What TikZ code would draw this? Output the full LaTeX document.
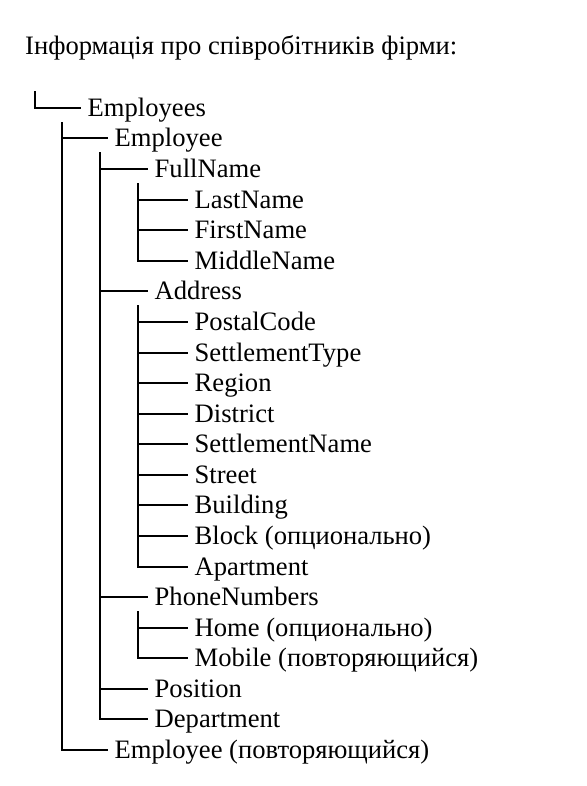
\documentclass[tikz,border=0pt]{standalone}
\usepackage{fontspec}
\setmainfont{Liberation Serif}
\begin{document}
\begin{tikzpicture}[x=1pt,y=-1pt,
  every node/.style={font=\fontsize{26.6}{30}\selectfont},
  item/.style={anchor=west, inner xsep=7.5pt, inner ysep=0pt, text height=17.4pt, text depth=0pt},
  branch/.style={line width=2pt, line cap=rect}]
\useasboundingbox (0,0) rectangle (586,786);
\node[anchor=base west, inner sep=0pt] (title) at (25,55) {Інформація про співробітників фірми:};
% nodes
\node[item] (emps) at (80,108) {Employees};
\node[item] (emp) at (107,138) {Employee};
\node[item] (full) at (147,169) {FullName};
\node[item] (last) at (187,200) {LastName};
\node[item] (first) at (187,230) {FirstName};
\node[item] (middle) at (187,261) {MiddleName};
\node[item] (addr) at (147,291) {Address};
\node[item] (postal) at (187,322) {PostalCode};
\node[item] (stype) at (187,353) {SettlementType};
\node[item] (region) at (187,383) {Region};
\node[item] (district) at (187,414) {District};
\node[item] (sname) at (187,444) {SettlementName};
\node[item] (street) at (187,475) {Street};
\node[item] (building) at (187,505) {Building};
\node[item] (block) at (187,536) {Block (опционально)};
\node[item] (apt) at (187,567) {Apartment};
\node[item] (phones) at (147,597) {PhoneNumbers};
\node[item] (home) at (187,628) {Home (опционально)};
\node[item] (mobile) at (187,658) {Mobile (повторяющийся)};
\node[item] (pos) at (147,689) {Position};
\node[item] (dept) at (147,719) {Department};
\node[item] (emp2) at (107,750) {Employee (повторяющийся)};
% vertical tops
\coordinate (v0) at (35,92);
\coordinate (v1) at (62,123);
\coordinate (v2) at (100,153);
\coordinate (v3a) at (138,184);
\coordinate (v3b) at (138,306);
\coordinate (v3c) at (138,612);
% connectors
\draw[branch] (v0) |- (emps.west);
\draw[branch] (v1) |- (emp2.west);
\draw[branch] (emp.west -| v1) -- (emp.west);
\draw[branch] (v2) |- (dept.west);
\foreach \n in {full,addr,phones,pos} \draw[branch] (\n.west -| v2) -- (\n.west);
\draw[branch] (v3a) |- (middle.west);
\foreach \n in {last,first} \draw[branch] (\n.west -| v3a) -- (\n.west);
\draw[branch] (v3b) |- (apt.west);
\foreach \n in {postal,stype,region,district,sname,street,building,block} \draw[branch] (\n.west -| v3b) -- (\n.west);
\draw[branch] (v3c) |- (mobile.west);
\draw[branch] (home.west -| v3c) -- (home.west);
\end{tikzpicture}
\end{document}
